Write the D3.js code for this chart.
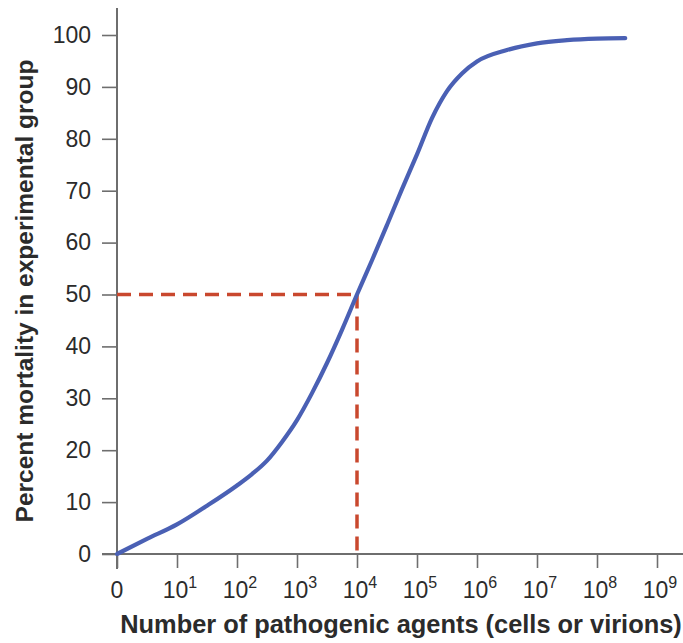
<!DOCTYPE html>
<html>
<head>
<meta charset="utf-8">
<script src="https://cdn.jsdelivr.net/npm/d3@7"></script>
<style>
  html, body { margin: 0; padding: 0; background: #fff; }
  svg { display: block; }
  text { font-family: "Liberation Sans", Arial, Helvetica, sans-serif; fill: #2b2b2b; }
</style>
</head>
<body>
<svg id="chart" width="683" height="643"></svg>
<script>
// Data: x as log10 of number of agents (0 means zero agents), y as percent mortality
const doseExponent = [0, 0.5, 1, 1.5, 2, 2.25, 2.5, 2.75, 3, 3.25, 3.5, 3.75, 4, 4.25, 4.5, 4.75, 5, 5.25, 5.5, 5.75, 6, 6.5, 7, 7.5, 8, 8.47];
const mortality   = [0, 2.9, 5.7, 9.3, 13.2, 15.4, 18.0, 21.6, 25.8, 31, 36.8, 43.2, 50, 56.6, 63.4, 70.3, 77, 84, 89.2, 92.6, 94.9, 97.1, 98.4, 99, 99.3, 99.4];
const xTickExponents = [0, 1, 2, 3, 4, 5, 6, 7, 8, 9];
const xTickBase = ["0", "10", "10", "10", "10", "10", "10", "10", "10", "10"];
const xTickSup  = ["", "1", "2", "3", "4", "5", "6", "7", "8", "9"];
const yTicks = [0, 10, 20, 30, 40, 50, 60, 70, 80, 90, 100];
const ld50 = { exponent: 4, percent: 50 };

const svg = d3.select("#chart");
const x = d3.scaleLinear().domain([0, 9]).range([117, 657]);
const y = d3.scaleLinear().domain([0, 100]).range([554, 35]);
const axisColor = "#6e6e6e";

// Y axis
const yAxis = svg.append("g").attr("transform", "translate(117,0)")
  .call(d3.axisLeft(y).tickValues(yTicks).tickSize(15).tickPadding(11).tickSizeOuter(0));
yAxis.select(".domain").remove();
yAxis.selectAll(".tick line").attr("stroke", axisColor).attr("stroke-width", 1.6);
yAxis.selectAll(".tick text").style("font-size", "23px").attr("fill", "#2b2b2b")
  .attr("font-family", "Liberation Sans, Arial, sans-serif");
svg.append("line").attr("x1", 117).attr("x2", 117).attr("y1", 8).attr("y2", 569)
  .attr("stroke", axisColor).attr("stroke-width", 2);

// X axis
const xAxis = svg.append("g").attr("transform", "translate(0,554)")
  .call(d3.axisBottom(x).tickValues(xTickExponents).tickSize(14).tickFormat(""));
xAxis.select(".domain").remove();
xAxis.selectAll(".tick line").attr("stroke", axisColor).attr("stroke-width", 1.6);
svg.append("line").attr("x1", 102).attr("x2", 683).attr("y1", 554).attr("y2", 554)
  .attr("stroke", axisColor).attr("stroke-width", 2);

xTickExponents.forEach((e, i) => {
  const t = svg.append("text")
    .attr("x", x(e) + (xTickSup[i] ? 3 : 0))
    .attr("y", 598)
    .attr("text-anchor", "middle")
    .style("font-size", "23px");
  t.append("tspan").text(xTickBase[i]);
  if (xTickSup[i]) {
    t.append("tspan").attr("dy", -10).style("font-size", "16px").text(xTickSup[i]);
  }
});

// Axis titles
svg.append("text").attr("x", 401).attr("y", 633).attr("text-anchor", "middle")
  .style("font-size", "25.4px").style("font-weight", "bold")
  .text("Number of pathogenic agents (cells or virions)");
svg.append("text").attr("transform", "translate(33,291) rotate(-90)").attr("text-anchor", "middle")
  .style("font-size", "24.5px").style("font-weight", "bold")
  .text("Percent mortality in experimental group");

// LD50 dashed lines
const red = "#c9482e";
svg.append("line").attr("x1", x(0)).attr("x2", x(ld50.exponent))
  .attr("y1", y(ld50.percent)).attr("y2", y(ld50.percent))
  .attr("stroke", red).attr("stroke-width", 3.5).attr("stroke-dasharray", "14,8");
svg.append("line").attr("x1", x(ld50.exponent)).attr("x2", x(ld50.exponent))
  .attr("y1", y(ld50.percent)).attr("y2", y(0))
  .attr("stroke", red).attr("stroke-width", 3.5).attr("stroke-dasharray", "14,8");

// Curve
const line = d3.line().x((d, i) => x(doseExponent[i])).y((d) => y(d)).curve(d3.curveMonotoneX);
svg.append("path").datum(mortality).attr("d", line)
  .attr("fill", "none").attr("stroke", "#4a60b4").attr("stroke-width", 4.2)
  .attr("stroke-linecap", "round");
</script>
</body>
</html>
